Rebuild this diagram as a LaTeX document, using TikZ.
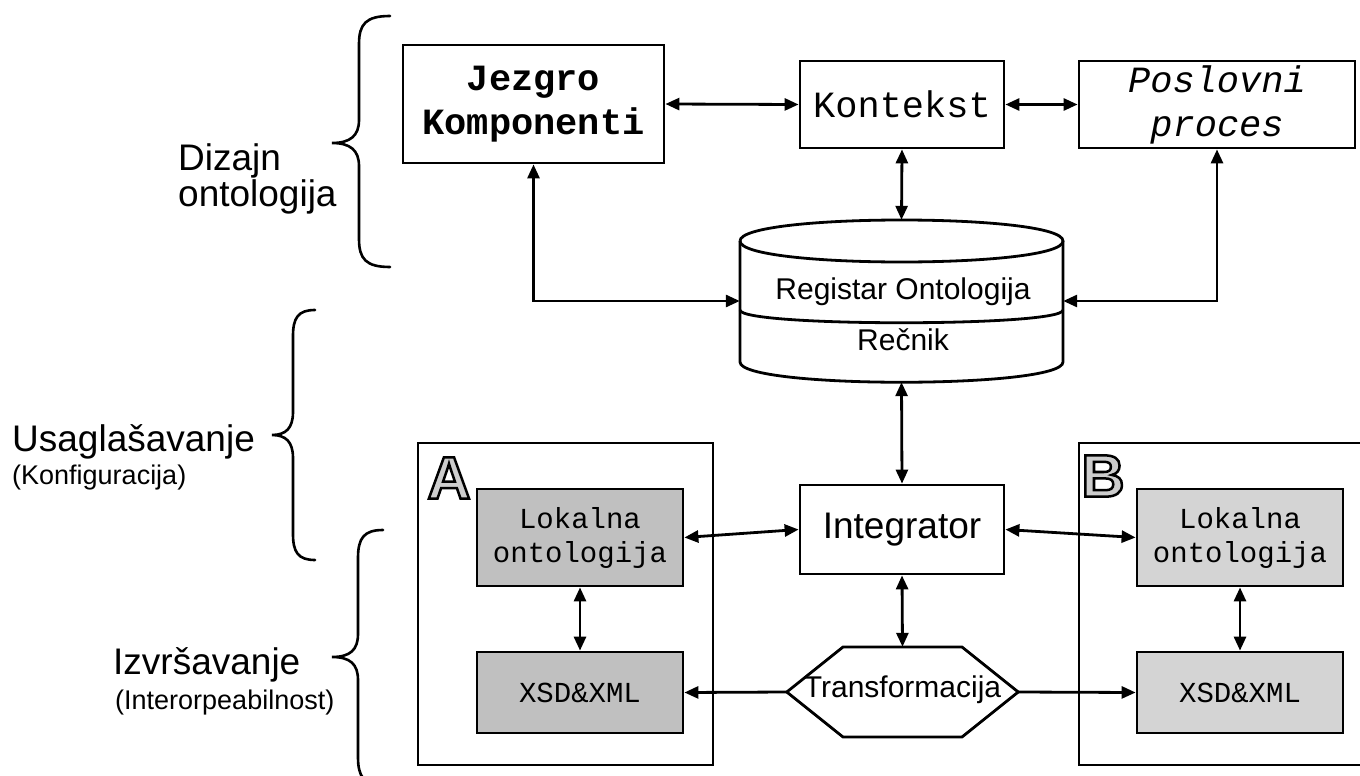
\documentclass[tikz,border=0pt]{standalone}
\usepackage{fontspec}
\setmainfont{Liberation Sans}
\newfontfamily\mono{Liberation Mono}
\usetikzlibrary{arrows.meta}
\definecolor{grayA}{RGB}{192,192,192}
\definecolor{grayB}{RGB}{212,212,212}
\definecolor{letterfill}{RGB}{205,205,205}
\newcommand{\outlined}[1]{\special{pdf:literal direct 2 Tr 2.5 w 0 G}#1\special{pdf:literal direct 0 Tr}}
\tikzset{
  box/.style={draw, line width=2.8pt, inner sep=0pt, align=center},
  ghost/.style={inner sep=0pt},
  lnk/.style={line width=2.8pt, {Triangle[length=14pt,width=12pt]}-{Triangle[length=14pt,width=12pt]}},
  onew/.style={line width=2.8pt, -{Triangle[length=14pt,width=12pt]}},
  shp/.style={line width=2.8pt, line join=miter},
  brc/.style={line width=2.6pt, line cap=round},
  monobig/.style={font=\mono\fontsize{37}{44}\selectfont},
  monosm/.style={font=\mono\fontsize{29}{34}\selectfont},
  sansmid/.style={font=\fontsize{30}{34}\selectfont},
  lbig/.style={font=\fontsize{37}{40}\selectfont, inner sep=0pt},
  lsm/.style={font=\fontsize{27}{32}\selectfont, inner sep=0pt},
  letter/.style={font=\bfseries\fontsize{60}{60}\selectfont, inner sep=0pt},
}
\begin{document}
\begin{tikzpicture}[x=1pt, y=-1pt]
\useasboundingbox (0,0) rectangle (1360,776);
\clip (0,0) rectangle (1360,776);

% ---- left labels and braces
\node[lbig, anchor=base west] (dz1) at (178,170) {Dizajn};
\node[lbig, anchor=base west] (dz2) at (178,206) {ontologija};
\node[lbig, anchor=base west] (us1) at (12,451) {Usaglašavanje};
\node[lsm, anchor=base west] (us2) at (12,484) {(Konfiguracija)};
\node[lbig, anchor=base west] (iz1) at (113,674) {Izvršavanje};
\node[lsm, anchor=base west] (iz2) at (115,709) {(Interorpeabilnost)};

\draw[brc] (390,16) .. controls (366,16) and (359,24) .. (359,44) -- (359,120)
  .. controls (359,136) and (350,143) .. (332,143)
  .. controls (350,143) and (359,150) .. (359,166) -- (359,239)
  .. controls (359,259) and (366,267) .. (390,267);
\draw[brc] (315,310) .. controls (298,310) and (293,318) .. (293,336) -- (293,412)
  .. controls (293,428) and (286,435) .. (272,435)
  .. controls (286,435) and (293,442) .. (293,458) -- (293,534)
  .. controls (293,552) and (298,560) .. (315,560);
\draw[brc] (383,530) .. controls (364,530) and (358,538) .. (358,558) -- (358,634)
  .. controls (358,650) and (350,657) .. (332,657)
  .. controls (350,657) and (358,664) .. (358,680) -- (358,757)
  .. controls (358,777) and (364,785) .. (383,785);

% ---- top boxes
\node[box, monobig, minimum width=261pt, minimum height=118pt] (jez) at (533.5,104) {\bfseries Jezgro\\\bfseries Komponenti};
\node[box, monobig, minimum width=204pt, minimum height=87pt] (kon) at (902,104.5) {Kontekst};
\node[box, monobig, minimum width=276pt, minimum height=87pt] (pos) at (1217,104.5) {\itshape Poslovni\\\itshape proces};

% ---- cylinder (registry)
\node[ghost, minimum width=323pt, minimum height=162pt] (reg) at (901.5,301) {};
\draw[shp] (740,241) .. controls (740,213) and (1063,213) .. (1063,241)
  .. controls (1063,269) and (740,269) .. (740,241);
\draw[shp] (740,241) -- (740,362) .. controls (740,389) and (1063,389) .. (1063,362) -- (1063,241);
\draw[shp] (740,310) .. controls (740,327) and (1063,327) .. (1063,310);
\node[sansmid] (regt1) at (903,292) {Registar Ontologija};
\node[sansmid] (regt2) at (903,340) {Rečnik};

% ---- containers A and B
\node[box, minimum width=295pt, minimum height=322pt] (boxA) at (565.5,604) {};
\node[box, minimum width=291pt, minimum height=322pt] (boxB) at (1224.5,604) {};

% letters A and B (outlined)
\node[letter, text=letterfill] (la) at (449,478) {\outlined{A}};
\node[letter, text=letterfill] (lb) at (1103,476) {\outlined{B}};

% ---- inner boxes
\node[box, monosm, fill=grayA, minimum width=206pt, minimum height=97pt] (lokA) at (580,537.5) {Lokalna\\ontologija};
\node[box, monosm, fill=grayA, minimum width=206pt, minimum height=81pt] (xsdA) at (580,692.5) {XSD\&XML};
\node[box, monosm, fill=grayB, minimum width=206pt, minimum height=97pt] (lokB) at (1240,537.5) {Lokalna\\ontologija};
\node[box, monosm, fill=grayB, minimum width=206pt, minimum height=81pt] (xsdB) at (1240,692.5) {XSD\&XML};

% ---- integrator and transformation
\node[box, font=\fontsize{37}{40}\selectfont, minimum width=204pt, minimum height=89pt] (int) at (902,529.5) {Integrator};
\node[ghost, minimum width=231pt, minimum height=90pt] (trans) at (902.5,692) {};
\draw[shp] (trans.west) -- (843,647) -- (962,647) -- (trans.east) -- (962,737) -- (843,737) -- cycle;
\node[sansmid] (transt) at (902.5,690) {Transformacija};

% ---- connectors
\draw[lnk] (jez.east) -- (kon.west);
\draw[lnk] (kon.east) -- (pos.west);
\draw[lnk] (kon.south) -- (reg.north);
\draw[lnk] (jez.south) |- (reg.west);
\draw[lnk] (pos.south) |- (reg.east);
\draw[lnk] (reg.south) -- (int.north);
\draw[lnk] (lokA.east) -- (int.west);
\draw[lnk] (int.east) -- (lokB.west);
\draw[lnk] (lokA.south) -- (xsdA.north);
\draw[lnk] (lokB.south) -- (xsdB.north);
\draw[lnk] (int.south) -- (trans.north);
\draw[onew] (trans.west) -- (xsdA.east);
\draw[onew] (trans.east) -- (xsdB.west);
\end{tikzpicture}
\end{document}
